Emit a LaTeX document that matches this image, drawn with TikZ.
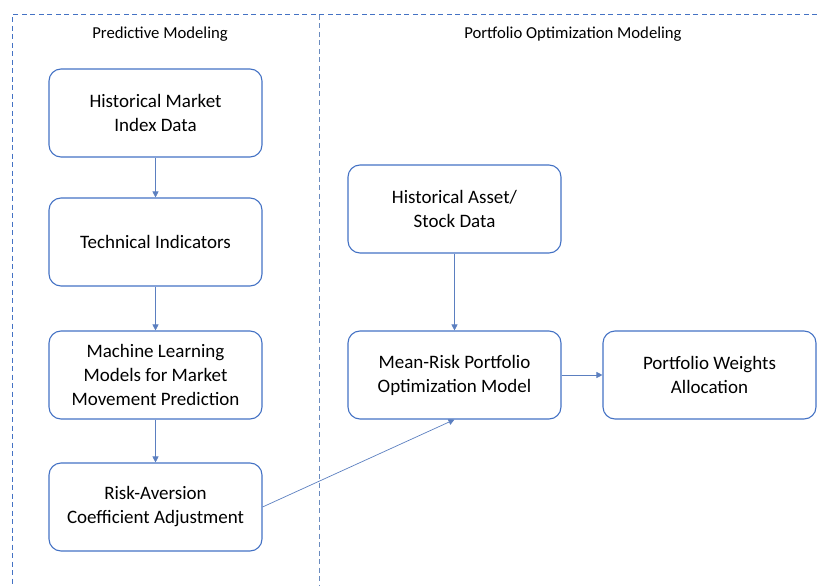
\documentclass[tikz,border=0pt]{standalone}
\usepackage{fontspec}
\setmainfont{Carlito}
\usetikzlibrary{arrows.meta}
\definecolor{boxblue}{HTML}{4472C4}
\definecolor{lineblue}{HTML}{5B7FC0}
\definecolor{greyblue}{HTML}{6A8BBE}

\begin{document}
\begin{tikzpicture}[x=1pt,y=-1pt,
  stage/.style={draw=boxblue,line width=1.1pt,rounded corners=12pt,
    minimum width=213pt,minimum height=88pt,align=center,
    font=\fontsize{19}{24}\selectfont},
  title/.style={font=\fontsize{16.7}{19}\selectfont},
  link/.style={draw=lineblue,line width=0.7pt,-{Triangle[width=6pt,length=6pt]}},
  frame/.style={line width=1pt,dash pattern=on 5pt off 3.5pt}]
  \useasboundingbox (0,0) rectangle (817,586);
  % dashed frame round the two parts
  \draw[frame,boxblue] (817,15) -- (12,15) -- (12,586);
  \draw[frame,greyblue] (319,15) -- (319,586);
  \node[title] (tpred) at (160,34) {Predictive Modeling};
  \node[title] (topt) at (573,34) {Portfolio Optimization Modeling};
  % predictive modeling
  \node[stage] (hist) at (155.5,113) {Historical Market\\Index Data};
  \node[stage] (tech) at (155.5,242) {Technical Indicators};
  \node[stage] (ml) at (155.5,375) {Machine Learning\\Models for Market\\Movement Prediction};
  \node[stage] (risk) at (155.5,507) {Risk-Aversion\\Coefficient Adjustment};
  % portfolio optimization
  \node[stage] (asset) at (454.5,209) {Historical Asset/\\Stock Data};
  \node[stage] (mr) at (454.5,375) {Mean-Risk Portfolio\\Optimization Model};
  \node[stage] (pw) at (709.5,375) {Portfolio Weights\\Allocation};
  \draw[link] (hist) -- (tech);
  \draw[link] (tech) -- (ml);
  \draw[link] (ml) -- (risk);
  \draw[link] (asset) -- (mr);
  \draw[link] (risk.east) -- (mr.south);
  \draw[link] (mr) -- (pw);
\end{tikzpicture}
\end{document}
